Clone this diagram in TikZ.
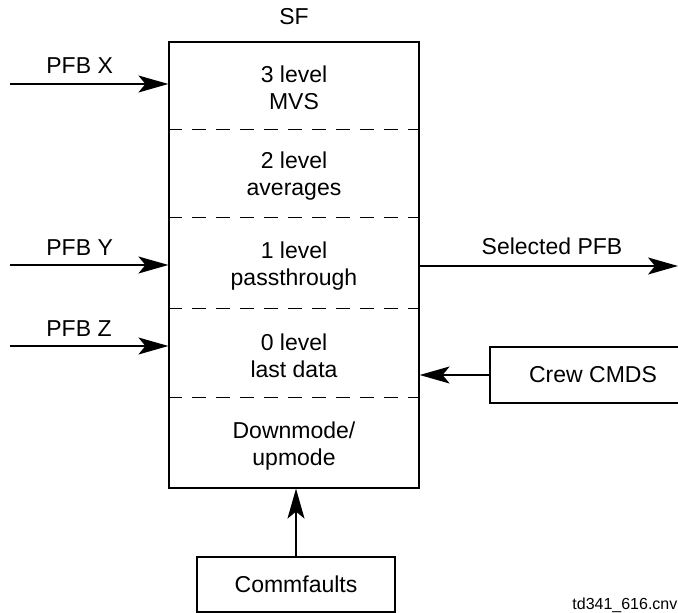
\documentclass[tikz,border=0pt]{standalone}
\usepackage{fontspec}
\setmainfont{Liberation Sans}
\usetikzlibrary{arrows.meta}

\tikzset{
  lbl/.style={inner sep=0pt, font=\fontsize{11.5}{13.5}\selectfont},
  sect/.style={lbl, align=center},
  blk/.style={draw, line width=0.6pt, inner sep=0pt},
  flow/.style={line width=0.7pt, -{Stealth[length=15pt,width=8.5pt,inset=3.5pt]}},
  split/.style={line width=0.5pt, dash pattern=on 7pt off 5pt},
}

\begin{document}
\begin{tikzpicture}[x=0.5pt,y=-0.5pt]
    \useasboundingbox (0,0) rectangle (678,613);

    % selection function block
    \node [blk, minimum width=125pt, minimum height=223pt] (sf) at (294,265) {};
    \node [lbl] (sftitle) at (294,17) {SF};
    \draw [split] (sf.west |- 0,130)--(sf.east |- 0,130);
    \draw [split] (sf.west |- 0,218)--(sf.east |- 0,218);
    \draw [split] (sf.west |- 0,309)--(sf.east |- 0,309);
    \draw [split] (sf.west |- 0,398)--(sf.east |- 0,398);
    \node [sect] (lvl3) at (294,88) {3 level\\MVS};
    \node [sect] (lvl2) at (294,176) {2 level\\averages};
    \node [sect] (lvl1) at (294,266) {1 level\\passthrough};
    \node [sect] (lvl0) at (294,356) {0 level\\last data};
    \node [sect] (mode) at (294,446) {Downmode/\\upmode};

    % inputs
    \coordinate (inx) at (10,84);
    \coordinate (iny) at (10,265);
    \coordinate (inz) at (10,346);
    \draw [flow] (inx)--(inx -| sf.west);
    \draw [flow] (iny)--(iny -| sf.west);
    \draw [flow] (inz)--(inz -| sf.west);
    \node [lbl, anchor=west] (pfbx) at (46,66) {PFB X};
    \node [lbl, anchor=west] (pfby) at (46,248) {PFB Y};
    \node [lbl, anchor=west] (pfbz) at (46,329) {PFB Z};

    % output
    \coordinate (out) at (678,266);
    \draw [flow] (out -| sf.east)--(out);
    \node [lbl] (selpfb) at (552,246) {Selected PFB};

    % commands and faults
    \node [blk, minimum width=103pt, minimum height=28pt, lbl] (crew) at (593,375) {Crew CMDS};
    \draw [flow] (crew.west)--(crew.west -| sf.east);
    \node [blk, minimum width=99pt, minimum height=27.5pt, lbl] (comm) at (296,584.5) {Commfaults};
    \draw [flow] (comm.north)--(comm.north |- sf.south);

    \node [anchor=base west, inner sep=0pt, font=\fontsize{8}{9}\selectfont] (fname) at (572,609) {td341\_616.cnv};
\end{tikzpicture}
\end{document}
